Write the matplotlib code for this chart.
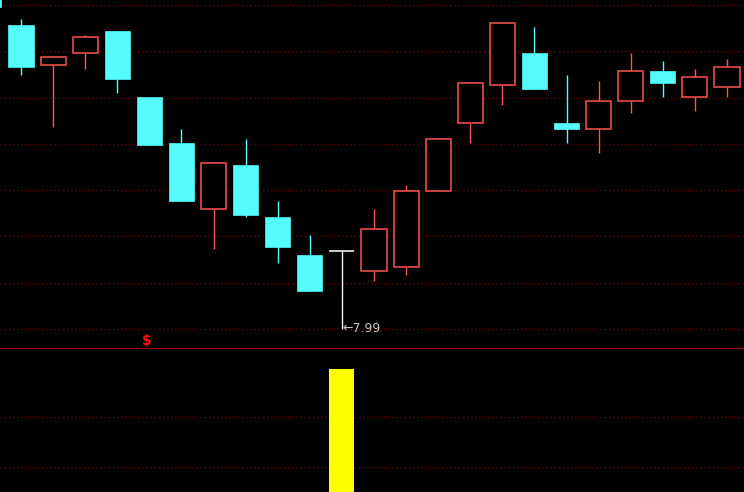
import matplotlib
matplotlib.use("Agg")
import matplotlib.pyplot as plt
from matplotlib.patches import Rectangle
import numpy as np

# daily bars, index -1 is the partly visible one at the left edge
days = list(range(-1, 23))
opens = [9.75, 9.51, 9.31, 9.37, 9.48, 9.15, 8.92, 8.59, 8.81, 8.55, 8.36, 8.38, 8.28,
         8.30, 8.68, 9.02, 9.21, 9.37, 9.02, 8.99, 9.13, 9.28, 9.15, 9.20]
closes = [9.60, 9.30, 9.35, 9.45, 9.24, 8.91, 8.63, 8.82, 8.56, 8.40, 8.18, 8.38, 8.49,
          8.68, 8.94, 9.22, 9.52, 9.19, 8.99, 9.13, 9.28, 9.22, 9.25, 9.30]
highs = [9.78, 9.54, 9.35, 9.46, 9.48, 9.15, 8.99, 8.82, 8.94, 8.63, 8.46, 8.38, 8.59,
         8.71, 8.94, 9.22, 9.52, 9.50, 9.26, 9.23, 9.37, 9.33, 9.29, 9.34]
lows = [9.60, 9.26, 9.00, 9.29, 9.17, 8.91, 8.63, 8.39, 8.55, 8.32, 8.18, 7.99, 8.23,
        8.26, 8.68, 8.92, 9.11, 9.19, 8.92, 8.87, 9.07, 9.15, 9.08, 9.15]
# signal in the lower panel
signal = [0, 0, 0, 0, 0, 0, 0, 0, 0, 0, 0, 1.0, 0, 0, 0, 0, 0, 0, 0, 0, 0, 0, 0, 0]
low_label = "7.99"
mark_day = 4

UP = "#ff5252"
DOWN = "#54fcfc"
FLAT = "#f0f0f0"
GRID = "#6a0000"
w = 0.78

fig = plt.figure(figsize=(7.44, 4.92), dpi=100, facecolor="black")
ax = fig.add_axes([0, 143 / 492, 1, 349 / 492])
ax2 = fig.add_axes([0, 0, 1, 143 / 492])

for a in (ax, ax2):
    a.set_facecolor("black")
    a.set_xlim(-0.654, 22.53)
    a.axis("off")

ax.set_ylim(7.89, 9.635)
for lvl in np.linspace(7.99, 9.61, 8):
    ax.axhline(lvl, color=GRID, lw=1, ls=(0, (1, 2)), zorder=0)

for d, o, c, h, l in zip(days, opens, closes, highs, lows):
    if c > o:
        ax.vlines(d, c, h, color=UP, lw=1, zorder=2)
        ax.vlines(d, l, o, color=UP, lw=1, zorder=2)
        ax.add_patch(Rectangle((d - w / 2, o), w, c - o, facecolor="black",
                               edgecolor=UP, lw=1.1, zorder=3))
    elif c < o:
        ax.vlines(d, l, h, color=DOWN, lw=1, zorder=2)
        ax.add_patch(Rectangle((d - w / 2, c), w, o - c, facecolor=DOWN,
                               edgecolor=DOWN, lw=0.5, zorder=3))
    else:
        ax.vlines(d, l, h, color=FLAT, lw=1, zorder=2)
        ax.hlines(o, d - w / 2, d + w / 2, color=FLAT, lw=1.2, zorder=3)

# low marker
i_low = int(np.argmin(lows))
ax.text(days[i_low], lows[i_low], "\u2190" + low_label, color="#c8c8c8",
        fontsize=9, ha="left", va="center", zorder=4)

ax.text(mark_day - 0.07, 7.893, "$", color="#ff1010", fontsize=10, fontweight="bold",
        ha="center", va="bottom", zorder=4)

# separator
ax.axhline(7.89, color="#c80000", lw=1.3, zorder=5)

ax2.set_ylim(0, 1.163)
for lvl in (0.203, 0.61):
    ax2.axhline(lvl, color=GRID, lw=1, ls=(0, (1, 2)), zorder=0)
ax2.bar(days, signal, width=w, color="#ffff00", zorder=2)

fig.savefig("out.png", dpi=100, facecolor="black")
